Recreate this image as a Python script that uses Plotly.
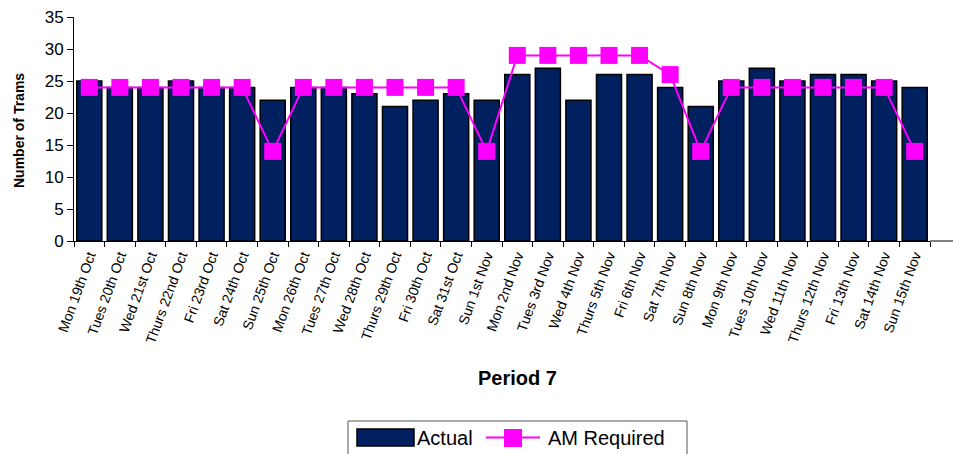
import plotly.graph_objects as go

categories = ["Mon 19th Oct", "Tues 20th Oct", "Wed 21st Oct", "Thurs 22nd Oct", "Fri 23rd Oct",
              "Sat 24th Oct", "Sun 25th Oct", "Mon 26th Oct", "Tues 27th Oct", "Wed 28th Oct",
              "Thurs 29th Oct", "Fri 30th Oct", "Sat 31st Oct", "Sun 1st Nov", "Mon 2nd Nov",
              "Tues 3rd Nov", "Wed 4th Nov", "Thurs 5th Nov", "Fri 6th Nov", "Sat 7th Nov",
              "Sun 8th Nov", "Mon 9th Nov", "Tues 10th Nov", "Wed 11th Nov", "Thurs 12th Nov",
              "Fri 13th Nov", "Sat 14th Nov", "Sun 15th Nov"]
actual = [25, 24, 24, 25, 24, 24, 22, 24, 24, 23, 21, 22, 23, 22, 26,
          27, 22, 26, 26, 24, 21, 25, 27, 25, 26, 26, 25, 24]
am_required = [24, 24, 24, 24, 24, 24, 14, 24, 24, 24, 24, 24, 24, 14, 29,
               29, 29, 29, 29, 26, 14, 24, 24, 24, 24, 24, 24, 14]
y_ticks = [0, 5, 10, 15, 20, 25, 30, 35]

FONT = "Arial, Liberation Sans, sans-serif"
NAVY = "#002060"
MAGENTA = "#FF00FF"

W, H = 953, 454
L, R, T, B = 74, 930, 17, 241  # plot area in pixels


def px(x):
    return (x - L) / (R - L)


def py(y):
    return (B - y) / (B - T)


fig = go.Figure()
fig.add_trace(go.Bar(
    x=categories, y=actual, name="Actual",
    marker=dict(color=NAVY, line=dict(color="black", width=1.5)),
))
fig.add_trace(go.Scatter(
    x=categories, y=am_required, name="AM Required", mode="lines+markers",
    line=dict(color=MAGENTA, width=2),
    marker=dict(symbol="square", size=17, color=MAGENTA),
))

shapes = [
    # axis line extension to the right
    dict(type="line", xref="paper", yref="paper", x0=1, x1=px(953), y0=0, y1=0,
         line=dict(color="black", width=1)),
    # legend box
    dict(type="rect", xref="paper", yref="paper", x0=px(348), x1=px(687), y0=py(421), y1=py(462),
         line=dict(color="#555555", width=1), fillcolor="white", layer="above"),
    # legend bar swatch
    dict(type="rect", xref="paper", yref="paper", x0=px(357), x1=px(414), y0=py(429), y1=py(446),
         line=dict(color="black", width=1.5), fillcolor=NAVY, layer="above"),
    # legend line swatch
    dict(type="line", xref="paper", yref="paper", x0=px(486), x1=px(540), y0=py(437.5), y1=py(437.5),
         line=dict(color=MAGENTA, width=2), layer="above"),
    dict(type="rect", xref="paper", yref="paper", x0=px(504), x1=px(522), y0=py(429), y1=py(447),
         line=dict(color=MAGENTA, width=0), fillcolor=MAGENTA, layer="above"),
]

fig.update_layout(
    width=W, height=H,
    margin=dict(l=L, r=W - R, t=T, b=H - B),
    paper_bgcolor="white", plot_bgcolor="white",
    font=dict(family=FONT, color="black"),
    bargap=0.18,
    showlegend=False,
    xaxis=dict(
        type="category", range=[-0.5, len(categories) - 0.5],
        tickangle=-70, tickfont=dict(size=14, family=FONT),
        showline=True, linecolor="black", linewidth=1,
        ticks="outside", tickson="boundaries", ticklen=5, tickcolor="black",
        showgrid=False, automargin=False,
    ),
    yaxis=dict(
        range=[0, 35], tickvals=y_ticks, tickfont=dict(size=17, family=FONT),
        showline=True, linecolor="black", linewidth=1,
        ticks="outside", ticklen=6, tickcolor="black",
        showgrid=False, zeroline=False, automargin=False,
    ),
    shapes=shapes,
    annotations=[
        dict(text="<b>Period 7</b>", xref="paper", yref="paper",
             x=px(517), y=py(378), xanchor="center", yanchor="middle",
             showarrow=False, font=dict(size=20, family=FONT)),
        dict(text="<b>Number of Trams</b>", xref="paper", yref="paper",
             x=px(19), y=py(131), xanchor="center", yanchor="middle",
             textangle=-90, showarrow=False, font=dict(size=14, family=FONT)),
        dict(text="Actual", xref="paper", yref="paper",
             x=px(415), y=py(437.5), xanchor="left", yanchor="middle",
             showarrow=False, font=dict(size=20, family=FONT)),
        dict(text="AM Required", xref="paper", yref="paper",
             x=px(546), y=py(437.5), xanchor="left", yanchor="middle",
             showarrow=False, font=dict(size=20, family=FONT)),
    ],
)

fig.write_html("out.html", config={"displayModeBar": False},
               post_script="document.body.style.margin='0';")
